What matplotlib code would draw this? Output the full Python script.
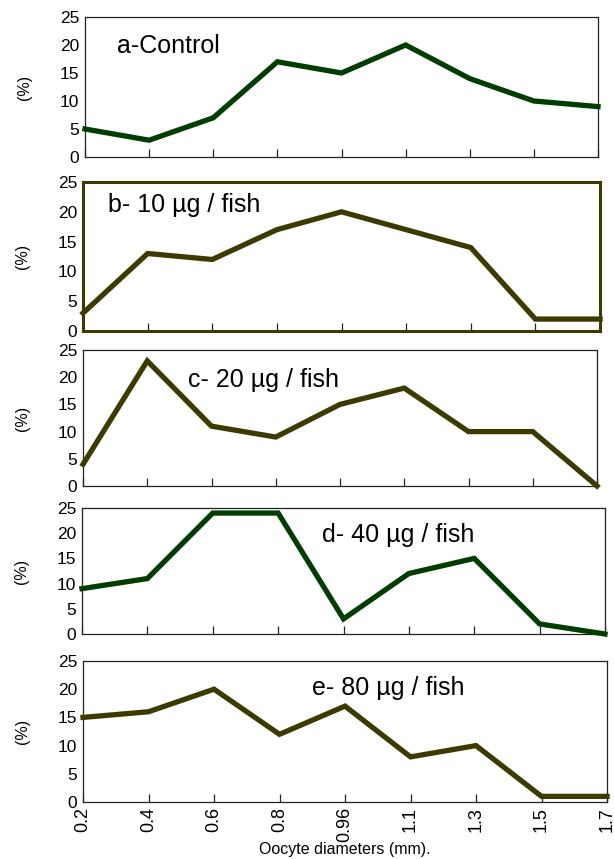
import matplotlib.pyplot as plt

plt.rcParams['font.family'] = ['Liberation Sans', 'DejaVu Sans']

# Oocyte diameter classes (mm)
diameters = ["0.2", "0.4", "0.6", "0.8", "0.96", "1.1", "1.3", "1.5", "1.7"]

# percent frequency per treatment
control = [5, 3, 7, 17, 15, 20, 14, 10, 9]
dose_10 = [3, 13, 12, 17, 20, 17, 14, 2, 2]
dose_20 = [4, 23, 11, 9, 15, 18, 10, 10, 0]
dose_40 = [9, 11, 24, 24, 3, 12, 15, 2, 0]
dose_80 = [15, 16, 20, 12, 17, 8, 10, 1, 1]

titles = ["a-Control", "b- 10 \u00b5g / fish", "c- 20 \u00b5g / fish",
          "d- 40 \u00b5g / fish", "e- 80 \u00b5g / fish"]

GREEN = "#003d00"
OLIVE = "#3d3a00"

W, H = 614, 859
fig = plt.figure(figsize=(W / 100, H / 100), dpi=100)

# axes boxes in pixels: left, top, right, bottom
boxes = [(85, 17, 598, 157),
         (83, 182, 600, 331),
         (83, 350, 597, 486),
         (82, 508, 605, 634),
         (83, 661, 607, 802)]
colors = [GREEN, OLIVE, OLIVE, GREEN, OLIVE]
label_pos = [(117, 46), (108, 205), (188, 380), (322, 535), (312, 688)]
series = [control, dose_10, dose_20, dose_40, dose_80]

x = list(range(len(diameters)))
for i, (b, col, vals, ttl, lp) in enumerate(zip(boxes, colors, series, titles, label_pos)):
    l, t, r, btm = b
    ax = fig.add_axes([l / W, 1 - btm / H, (r - l) / W, (btm - t) / H])
    ax.plot(x, vals, color=col, lw=3.8, solid_joinstyle="miter", clip_on=False, zorder=3)
    ax.set_xlim(0, len(diameters) - 1)
    ax.set_ylim(0, 25)
    ax.set_yticks([0, 5, 10, 15, 20, 25])
    ax.set_xticks(x)
    ax.tick_params(axis="y", length=0, pad=4, labelsize=12.5)
    ax.tick_params(axis="x", direction="in", length=6, width=0.9, color="#222222")
    for s in ax.spines.values():
        if i == 1:
            s.set_color(OLIVE)
            s.set_linewidth(2.2)
        else:
            s.set_color("#222222")
            s.set_linewidth(0.9)
    if i == 4:
        ax.set_xticklabels(diameters, rotation=90, fontsize=13)
        ax.set_xlabel("Oocyte diameters (mm).", fontsize=11.5, labelpad=0)
    else:
        ax.set_xticklabels([])
    ax.set_ylabel("(%)", fontsize=11.5, labelpad=20)
    fig.text(lp[0] / W, 1 - lp[1] / H, ttl, fontsize=18, ha="left", va="center")

fig.savefig("out.png", dpi=100)
